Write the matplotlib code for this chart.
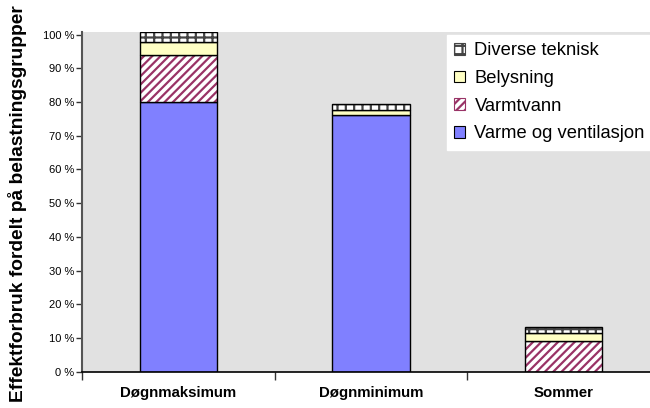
import matplotlib
matplotlib.use("Agg")
import matplotlib.pyplot as plt
import numpy as np
from matplotlib.patches import Patch
from matplotlib.ticker import FixedLocator

plt.rcParams["font.family"] = ["Liberation Sans", "DejaVu Sans"]
plt.rcParams["hatch.linewidth"] = 1.6

# Data (percent of peak load)
categories = ["Døgnmaksimum", "Døgnminimum", "Sommer"]
varme_ventilasjon = [80.0, 76.2, 0.0]
varmtvann = [14.0, 0.0, 9.1]
belysning = [3.7, 1.5, 2.3]
diverse_teknisk = [3.1, 1.7, 2.0]
series_names = ["Varme og ventilasjon", "Varmtvann", "Belysning", "Diverse teknisk"]
ylabel = "Effektforbruk fordelt på belastningsgrupper"
yticks = list(range(0, 101, 10))

fig = plt.figure(figsize=(6.5, 4.08), dpi=100)
ax = fig.add_axes([82 / 650, 36.3 / 408, 578 / 650, 339.7 / 408])
ax.set_facecolor("#e1e1e1")

x = np.arange(len(categories))
w = 0.40
series = [varme_ventilasjon, varmtvann, belysning, diverse_teknisk]
bottom = np.zeros(len(categories))
for name, vals in zip(series_names, series):
    vals = np.asarray(vals)
    if name == "Varme og ventilasjon":
        ax.bar(x, vals, w, bottom=bottom, color="#8080ff", lw=0)
    elif name == "Varmtvann":
        ax.bar(x, vals, w, bottom=bottom, facecolor="white", edgecolor="#993366",
               hatch="////", lw=0)
    elif name == "Belysning":
        ax.bar(x, vals, w, bottom=bottom, color="#ffffc4", lw=0)
    else:
        ax.bar(x, vals, w, bottom=bottom, facecolor="white", edgecolor="#444444",
               hatch="++", lw=0)
    # outline on top
    mask = vals > 0
    ax.bar(x[mask], vals[mask], w, bottom=bottom[mask], fill=False,
           edgecolor="black", lw=1.0)
    bottom = bottom + vals

ax.set_xlim(-0.5, 2.5)
ax.set_ylim(0, 100.8)
ax.set_yticks(yticks)
ax.set_yticklabels([f"{t} %" for t in yticks], fontsize=8)
ax.tick_params(axis="y", direction="out", length=4, width=1, pad=1.5, color="#333333")

ax.set_xticks(x)
ax.set_xticklabels(categories, fontsize=10.8, fontweight="bold")
ax.tick_params(axis="x", which="major", length=0, pad=10)
ax.xaxis.set_minor_locator(FixedLocator([-0.5, 0.5, 1.5]))
ax.tick_params(axis="x", which="minor", direction="out", length=6, width=1, color="#333333")

for s in ["top", "right"]:
    ax.spines[s].set_visible(False)
ax.spines["left"].set_color("#555555")
ax.spines["left"].set_linewidth(1.5)
ax.spines["bottom"].set_color("black")
ax.spines["bottom"].set_linewidth(1.2)

fig.text(18 / 650, 1 - 204 / 408, ylabel, rotation=90, ha="center", va="center",
         fontsize=13.8, fontweight="bold")

handles = [
    Patch(facecolor="white", edgecolor="#444444", hatch="++", lw=0.8),
    Patch(facecolor="#ffffc4", edgecolor="black", lw=0.8),
    Patch(facecolor="white", edgecolor="#993366", hatch="////", lw=0.8),
    Patch(facecolor="#8080ff", edgecolor="black", lw=0.8),
]
labels = ["Diverse teknisk", "Belysning", "Varmtvann", "Varme og ventilasjon"]
leg = fig.legend(handles, labels, loc="upper left", bbox_to_anchor=(447 / 650, 1 - 35 / 408),
                 bbox_transform=fig.transFigure, fontsize=13.2, frameon=True, fancybox=False,
                 edgecolor="white", facecolor="white", framealpha=1, borderaxespad=0,
                 handlelength=0.6, handleheight=0.6, handletextpad=0.5,
                 labelspacing=0.58, borderpad=0.4)

fig.savefig("out.png", dpi=100)
